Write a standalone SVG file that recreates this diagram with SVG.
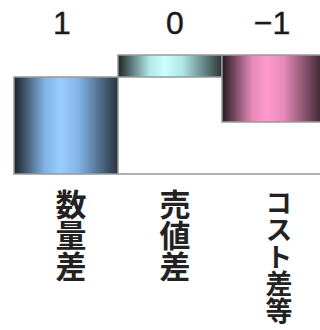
<svg xmlns="http://www.w3.org/2000/svg" width="320" height="330" viewBox="0 0 320 330">
<style>
.bar{stroke:#999;stroke-width:1.5}
.num{font-family:"Liberation Sans",Arial,sans-serif;font-size:32px;fill:#1a1a1a;text-anchor:middle;stroke:#1a1a1a;stroke-width:0.4}
.lbl{font-family:"Noto Sans CJK JP",sans-serif;font-weight:bold;font-size:31px;fill:#222;writing-mode:vertical-rl;text-anchor:start}
.lbl2{font-size:27px}
</style>
<defs>
<linearGradient id="gBlue" x1="0" y1="0" x2="1" y2="0">
<stop offset="0" stop-color="#1c232b"/><stop offset="0.3" stop-color="#82b4e6"/><stop offset="0.45" stop-color="#99ccff"/><stop offset="0.62" stop-color="#82b4e6"/><stop offset="1" stop-color="#26323f"/>
</linearGradient>
<linearGradient id="gCyan" x1="0" y1="0" x2="1" y2="0">
<stop offset="0" stop-color="#1e2626"/><stop offset="0.3" stop-color="#b0e6e6"/><stop offset="0.45" stop-color="#ccffff"/><stop offset="0.62" stop-color="#b0e6e6"/><stop offset="1" stop-color="#2a3636"/>
</linearGradient>
<linearGradient id="gPink" x1="0" y1="0" x2="1" y2="0">
<stop offset="0" stop-color="#261a20"/><stop offset="0.3" stop-color="#e68ab8"/><stop offset="0.45" stop-color="#ff99cc"/><stop offset="0.62" stop-color="#e68ab8"/><stop offset="1" stop-color="#3a2632"/>
</linearGradient>
</defs>
<g id="connectors">
<line x1="118" y1="174" x2="320" y2="174" stroke="#999" stroke-width="1.5"/>
</g>
<g id="bar-quantity">
<rect class="bar" x="14" y="77" width="104" height="97" fill="url(#gBlue)"/>
<text class="num" x="62" y="34">1</text>
<text class="lbl" x="71" y="189">数量差</text>
</g>
<g id="bar-price">
<rect class="bar" x="118" y="55" width="104" height="22" fill="url(#gCyan)"/>
<text class="num" x="175" y="34">0</text>
<text class="lbl" x="175" y="189">売値差</text>
</g>
<g id="bar-cost">
<rect class="bar" x="222" y="55" width="100" height="67" fill="url(#gPink)"/>
<text class="num" x="272" y="34">−1</text>
<text class="lbl lbl2" x="279" y="189">コスト差等</text>
</g>
</svg>
